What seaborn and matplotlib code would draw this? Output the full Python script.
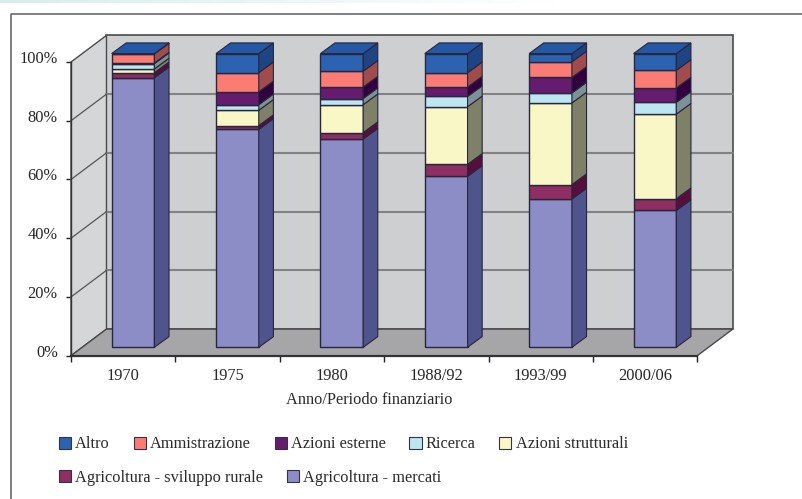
import numpy as np
import pandas as pd
import matplotlib
matplotlib.use('Agg')
import matplotlib.pyplot as plt
import seaborn as sns
from matplotlib.lines import Line2D
from matplotlib.patches import Patch, Polygon
from matplotlib.transforms import ScaledTranslation

# Values (% of budget), bottom segment first
periods = ['1970', '1975', '1980', '1988/92', '1993/99', '2000/06']
mercati = [91.8, 74.2, 70.9, 58.2, 50.5, 46.6]
rurale = [1.7, 1.3, 2.2, 4.1, 4.9, 4.0]
strutturali = [1.3, 5.2, 9.5, 19.6, 27.8, 28.8]
ricerca = [1.8, 1.9, 2.1, 3.5, 3.4, 4.0]
esterne = [0.2, 4.4, 3.9, 3.2, 5.3, 4.9]
amministrazione = [3.1, 6.5, 5.4, 4.9, 5.3, 6.0]
altro = [0.1, 6.5, 6.0, 6.5, 2.8, 5.7]

series_names = ['Agricoltura - mercati', 'Agricoltura - sviluppo rurale', 'Azioni strutturali',
                'Ricerca', 'Azioni esterne', 'Ammistrazione', 'Altro']
series_values = [mercati, rurale, strutturali, ricerca, esterne, amministrazione, altro]
front_colors = ['#8C8CC6', '#8E2E62', '#FAF7C6', '#BDE6F0', '#661C6E', '#FB7B75', '#2B63B0']
side_colors = ['#50548C', '#560E3C', '#7E8068', '#7C9296', '#32003E', '#A04C4C', '#1E4484']
cap_color = '#2458A4'

W, H = 803, 499
FS = 11.8
sns.set_theme(style='white')
plt.rcParams['font.family'] = ['Liberation Serif', 'DejaVu Serif']
plt.rcParams['text.color'] = '#2a2a2a'

fig = plt.figure(figsize=(W / 100, H / 100), dpi=100, facecolor='white')
ax = fig.add_axes([71 / W, 1 - 355.7 / H, 626.3 / W, 293.7 / H])

# fake 3D depth, in data units
wall_dx, wall_dy = 0.34, 9.06
bar_off_x, bar_off_y = 0.094, 2.86
bar_dx, bar_dy = 0.14, 3.64
bar_width = 0.41
edge = '#26263c'

x0, x1 = -0.5, 5.5
ax.set_xlim(x0, x1)
ax.set_ylim(0, 100)
ax.patch.set_alpha(0)

wall_edge = '#4a4a4a'
ax.add_patch(Polygon([(x0 + wall_dx, wall_dy), (x1 + wall_dx, wall_dy), (x1 + wall_dx, 100 + wall_dy), (x0 + wall_dx, 100 + wall_dy)],
                     fc='#CDCFD1', ec=wall_edge, lw=1.2, clip_on=False, zorder=1))
ax.add_patch(Polygon([(x0, 0), (x0 + wall_dx, wall_dy), (x0 + wall_dx, 100 + wall_dy), (x0, 100)],
                     fc='#D4D6D8', ec=wall_edge, lw=1.0, clip_on=False, zorder=1))
ax.add_patch(Polygon([(x0, 0), (x1, 0), (x1 + wall_dx, wall_dy), (x0 + wall_dx, wall_dy)],
                     fc='#A6A6A8', ec=wall_edge, lw=1.0, clip_on=False, zorder=1.1))

for level in [20, 40, 60, 80]:
    ax.plot([x0 + wall_dx, x1 + wall_dx], [level + wall_dy] * 2, color='#828282', lw=1.5, clip_on=False, zorder=2)
    ax.plot([x0, x0 + wall_dx], [level, level + wall_dy], color='#555555', lw=0.9, clip_on=False, zorder=2)

# stacked bars through seaborn, then moved back onto the floor
df = pd.DataFrame({'periodo': periods})
bottom = np.zeros(len(periods))
bottoms = []
for name, vals, col in zip(series_names, series_values, front_colors):
    bottoms.append(bottom.copy())
    sns.barplot(data=df.assign(val=vals), x='periodo', y='val', order=periods, bottom=bottom.copy(),
                color=col, saturation=1, width=bar_width, edgecolor=edge, linewidth=1,
                errorbar=None, zorder=3, ax=ax)
    bottom = bottom + np.array(vals)

for p in ax.patches:
    if isinstance(p, Polygon):
        continue
    p.set_x(p.get_x() + bar_off_x)
    p.set_y(p.get_y() + bar_off_y)
    p.set_clip_on(False)

for i in range(len(periods)):
    xr = i + bar_off_x + bar_width / 2
    xl = xr - bar_width
    for b, vals, col in zip(bottoms, series_values, side_colors):
        lo = b[i] + bar_off_y
        hi = lo + vals[i]
        ax.add_patch(Polygon([(xr, lo), (xr + bar_dx, lo + bar_dy), (xr + bar_dx, hi + bar_dy), (xr, hi)],
                             fc=col, ec=edge, lw=0.8, clip_on=False, zorder=3))
    top = bottom[i] + bar_off_y
    ax.add_patch(Polygon([(xl, top), (xr, top), (xr + bar_dx, top + bar_dy), (xl + bar_dx, top + bar_dy)],
                         fc=cap_color, ec=edge, lw=0.8, clip_on=False, zorder=3))

# axes
sns.despine(ax=ax, top=True, right=True)
for side in ['left', 'bottom']:
    ax.spines[side].set_color('#333333')
    ax.spines[side].set_zorder(4)
ax.spines['left'].set_linewidth(1.0)
ax.spines['bottom'].set_linewidth(1.6)

ax.set_yticks(np.arange(0, 101, 20))
ax.set_yticklabels([f'{v}%' for v in range(0, 101, 20)], fontsize=FS)
ax.set_xticks(np.arange(len(periods) + 1) - 0.5)
ax.set_xticklabels([])
ax.set_xticks(np.arange(len(periods)), labels=periods, minor=True, fontsize=FS)
ax.tick_params(axis='x', which='major', length=4.5, width=1, color='#222222', bottom=True)
ax.tick_params(axis='x', which='minor', length=0, pad=9, bottom=True)
ax.tick_params(axis='y', length=3.6, width=1, color='#222222', pad=6, left=True)
ax.set_ylabel('')
ax.set_xlabel('Anno/Periodo finanziario', fontsize=FS, labelpad=5.5, color='#2a2a2a', x=0.476)
for lbl in ax.get_yticklabels():
    lbl.set_transform(lbl.get_transform() + ScaledTranslation(0, 5 / 100, fig.dpi_scale_trans))

# two legend rows, they do not share columns
handles = {n: Patch(fc=c, ec='#333344', lw=0.8) for n, c in zip(series_names, front_colors)}
rows = [(['Altro', 'Ammistrazione', 'Azioni esterne', 'Ricerca', 'Azioni strutturali'], 444.5),
        (['Agricoltura - sviluppo rurale', 'Agricoltura - mercati'], 477.7)]
for names, y in rows:
    fig.legend([handles[n] for n in names], names, ncol=len(names), frameon=False, fontsize=FS,
               loc='center left', bbox_to_anchor=(59 / W, 1 - y / H), borderpad=0, borderaxespad=0,
               handlelength=0.74, handleheight=0.74, handletextpad=0.25, columnspacing=1.45)

# page frame and the pale strip at the top edge
strip = fig.add_axes([0, 1 - 3 / H, 556 / W, 3 / H])
strip.imshow(np.linspace(0, 1, 256)[None, :, None] * np.array([[[0.16, 0.07, 0.07]]]) + np.array([[[0.84, 0.93, 0.93]]]),
             aspect='auto')
strip.axis('off')
fig.add_artist(Line2D([11.5 / W, 11.5 / W, 1], [0, 1 - 14 / H, 1 - 14 / H], color='#6a6a6a', lw=1.2))

fig.savefig('out.png', dpi=100)
